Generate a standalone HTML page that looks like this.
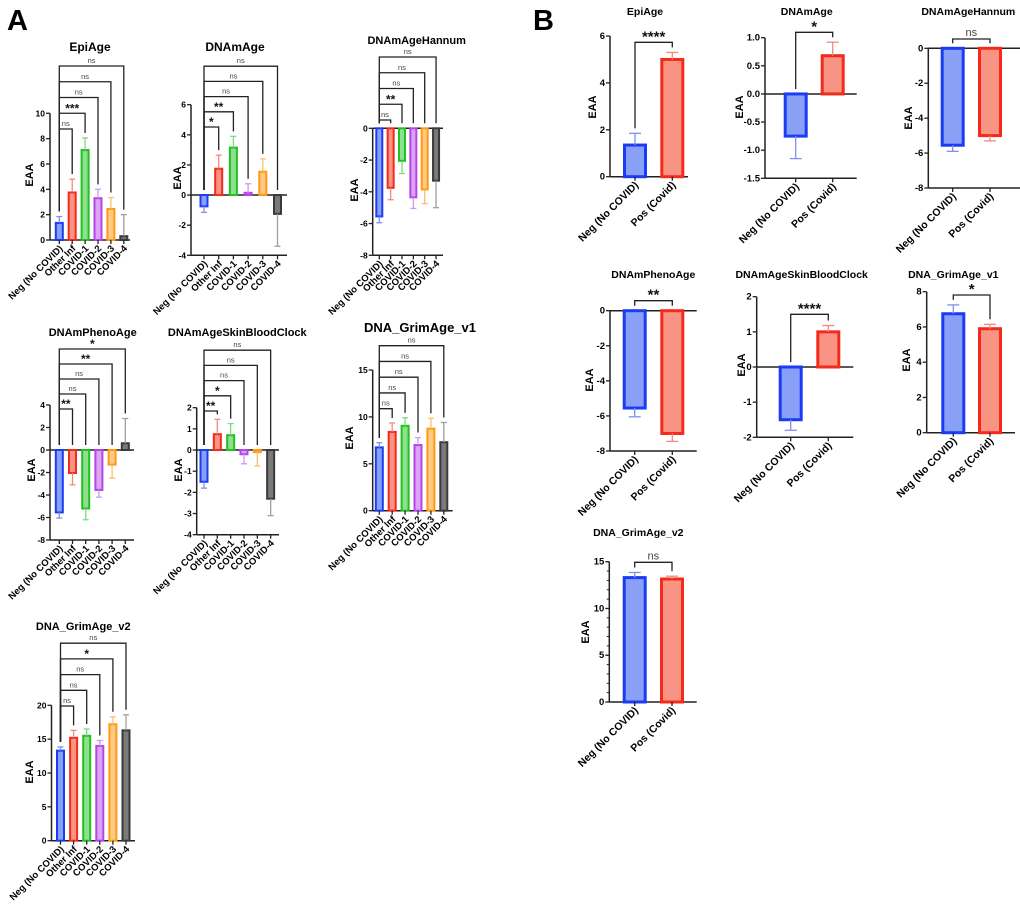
<!DOCTYPE html>
<html><head><meta charset="utf-8">
<style>
html,body{margin:0;padding:0;background:#fff;}
svg{display:block;font-family:"Liberation Sans",Arial,sans-serif;}
</style></head>
<body>
<svg id="fig" width="1020" height="908" viewBox="0 0 1020 908" xmlns="http://www.w3.org/2000/svg">
<text x="7" y="30" font-size="29" font-weight="bold">A</text>
<text x="533" y="30" font-size="29" font-weight="bold">B</text>
</svg>
<script>
// ---- categories ----
const catsA = ['Neg (No COVID)','Other Inf','COVID-1','COVID-2','COVID-3','COVID-4'];
const catsB = ['Neg (No COVID)','Pos (Covid)'];
// ---- panel A data (means, SEM, significance) ----
const a1Means = [1.35, 3.75, 7.1, 3.3, 2.45, 0.3];
const a1Sem = [0.5, 1.05, 0.95, 0.7, 0.9, 1.7];
const a1Sig = ['ns','***','ns','ns','ns'];
const a2Means = [-0.75, 1.75, 3.15, 0.15, 1.55, -1.25];
const a2Sem = [0.4, 0.9, 0.75, 0.6, 0.85, 2.15];
const a2Sig = ['*','**','ns','ns','ns'];
const a3Means = [-5.55, -3.75, -2.05, -4.35, -3.85, -3.3];
const a3Sem = [0.4, 0.75, 0.8, 0.7, 0.9, 1.7];
const a3Sig = ['ns','**','ns','ns','ns'];
const a4Means = [-5.55, -2.05, -5.2, -3.55, -1.3, 0.6];
const a4Sem = [0.5, 1.05, 1.0, 0.65, 1.2, 2.2];
const a4Sig = ['**','ns','ns','**','*'];
const a5Means = [-1.5, 0.75, 0.7, -0.2, -0.1, -2.3];
const a5Sem = [0.3, 0.7, 0.55, 0.45, 0.65, 0.8];
const a5Sig = ['**','*','ns','ns','ns'];
const a6Means = [6.75, 8.4, 9.05, 7.0, 8.75, 7.3];
const a6Sem = [0.5, 0.95, 0.85, 0.8, 1.1, 2.1];
const a6Sig = ['ns','ns','ns','ns','ns'];
const a7Means = [13.3, 15.2, 15.5, 14.0, 17.2, 16.3];
const a7Sem = [0.55, 1.1, 1.0, 0.8, 1.1, 2.3];
const a7Sig = ['ns','ns','ns','*','ns'];
// ---- panel B data ----
const b1Means = [1.35, 5.0]; const b1Sem = [0.5, 0.3]; const b1Sig = ['****'];
const b2Means = [-0.75, 0.68]; const b2Sem = [0.4, 0.24]; const b2Sig = ['*'];
const b3Means = [-5.55, -5.0]; const b3Sem = [0.35, 0.3]; const b3Sig = ['ns'];
const b4Means = [-5.55, -7.0]; const b4Sem = [0.5, 0.45]; const b4Sig = ['**'];
const b5Means = [-1.5, 1.0]; const b5Sem = [0.3, 0.18]; const b5Sig = ['****'];
const b6Means = [6.75, 5.9]; const b6Sem = [0.5, 0.25]; const b6Sig = ['*'];
const b7Means = [13.3, 13.15]; const b7Sem = [0.55, 0.3]; const b7Sig = ['ns'];
// ---- tick labels ----
const ticksA1 = [0,2,4,6,8,10];
const ticksA2 = [-4,-2,0,2,4,6];
const ticksA3 = [-8,-6,-4,-2,0];
const ticksA4 = [-8,-6,-4,-2,0,2,4];
const ticksA5 = [-4,-3,-2,-1,0,1,2];
const ticksA6 = [0,5,10,15];
const ticksA7 = [0,5,10,15,20];
const ticksB1 = [0,2,4,6];
const ticksB2 = [-1.5,-1.0,-0.5,0.0,0.5,1.0];
const ticksB3 = [-8,-6,-4,-2,0];
const ticksB4 = [-8,-6,-4,-2,0];
const ticksB5 = [-2,-1,0,1,2];
const ticksB6 = [0,2,4,6,8];
const ticksB7 = [0,5,10,15];

const NS = 'http://www.w3.org/2000/svg';
const svg = document.getElementById('fig');
const strokeA = ['#1a3cf5','#f52a1a','#22c022','#b445e6','#ff9a12','#3a3a3a'];
const fillA = ['#8aa0f6','#f79484','#8ee08e','#dca4f2','#ffc986','#7a7a7a'];
const errA = ['#7f90f0','#f08a80','#80d880','#cc99ee','#f8c070','#a0a0a0'];

function mk(tag, attrs, parent){
  const el = document.createElementNS(NS, tag);
  for (const k in attrs) el.setAttribute(k, attrs[k]);
  (parent || svg).appendChild(el);
  return el;
}

function panel(c){
  const g = mk('g', {});
  
  
  const yLo = c.ticks[0], yHi = c.ticks[c.ticks.length-1];
  const y = v => c.pLo + (v - yLo) * (c.pHi - c.pLo) / (yHi - yLo);
  const n = c.means.length;
  const bx = i => c.x1 + i * c.dx;
  const t = mk('text', {x:c.tx, y:c.ty, 'text-anchor':'middle', 'font-size':c.tfs, 'font-weight':'bold'}, g);
  t.textContent = c.title;
  
  
  const ya = mk('text', {x:0, y:0, 'text-anchor':'middle', 'font-size':11, 'font-weight':'bold', transform:`translate(${c.ex+5},${c.ey}) rotate(-90)`}, g);
  ya.textContent = 'EAA';
  
  
  const yl = mk('line', {x1:c.ax, x2:c.ax, y1:y(yLo), y2:y(yHi), stroke:'#222', 'stroke-width':1.5}, g);
  
  
  if (c.minor){
    for (let v = yLo; v <= yHi; v += c.minor){
      const m = mk('line', {x1:c.ax-2.5, x2:c.ax, y1:y(v), y2:y(v), stroke:'#222', 'stroke-width':1}, g);
      
      
    }
  }
  c.ticks.forEach(v => {
    const tk = mk('line', {x1:c.ax-4, x2:c.ax, y1:y(v), y2:y(v), stroke:'#222', 'stroke-width':1.3}, g);
    
    
    const tl = mk('text', {x:c.ax-5, y:y(v)+3, 'text-anchor':'end', 'font-size':c.big?9.5:8.5, 'font-weight':'bold'}, g);
    tl.textContent = c.fmt ? v.toFixed(1) : String(v);
    
    
  });
  const xl = mk('line', {x1:c.ax, x2:c.xe, y1:y(yLo), y2:y(yLo), stroke:'#222', 'stroke-width':1.5}, g);
  
  
  if (yLo < 0){
    const zl = mk('line', {x1:c.ax, x2:c.xe, y1:y(0), y2:y(0), stroke:'#222', 'stroke-width':1.5}, g);
    
    
  }
  const sA = c.big ? [strokeA[0], strokeA[1]] : strokeA;
  const fA = c.big ? [fillA[0], fillA[1]] : fillA;
  const eA = c.big ? [errA[0], errA[1]] : errA;
  const sw = c.big ? 3 : 2;
  for (let i = 0; i < n; i++){
    const cx = bx(i), m = c.means[i], s = c.sems[i];
    const top = Math.min(y(m), y(0)), h = Math.abs(y(m) - y(0));
    const r = mk('rect', {x:cx - c.bw/2 + sw/2, y:top, width:c.bw - sw, height:Math.max(h, 0.5), fill:fA[i], stroke:sA[i], 'stroke-width':sw}, g);
    
    
    const e = m >= 0 ? m + s : m - s;
    const el = mk('line', {x1:cx, x2:cx, y1:y(m), y2:y(e), stroke:eA[i], 'stroke-width':1.3}, g);
    
    
    const cap = mk('line', {x1:cx - c.cap, x2:cx + c.cap, y1:y(e), y2:y(e), stroke:eA[i], 'stroke-width':1.3}, g);
    
    
    const tkx = mk('line', {x1:cx, x2:cx, y1:y(yLo), y2:y(yLo)+4, stroke:'#222', 'stroke-width':1.3}, g);
    
    
    const cl = mk('text', {x:0, y:0, 'text-anchor':'end', 'font-size':c.big?10.5:9.5, 'font-weight':'bold', transform:`translate(${cx+4},${y(yLo)+9}) rotate(-45)`}, g);
    cl.textContent = c.cats[i];
    
    
  }
  const topOf = i => { const m = c.means[i]; return m > 0 ? y(m + c.sems[i]) : y(0); };
  c.sig.forEach((lab, k) => {
    const j = k + 1;
    const by = c.by0 - k * c.bstep;
    const x0 = bx(0), x1 = bx(j);
    const l0 = Math.max(by + 3, topOf(0) - 5), l1 = Math.max(by + 3, topOf(j) - 5);
    const p = mk('path', {d:`M${x0},${l0} V${by} H${x1} V${l1}`, fill:'none', stroke:'#222', 'stroke-width':1.3}, g);
    
    
    const isNs = lab === 'ns';
    const st = mk('text', {x:(x0+x1)/2, y:isNs ? by-3 : by-1, 'text-anchor':'middle', 'font-size':isNs ? (c.big?11:7.5) : (c.big?15:12), 'font-weight':isNs?'normal':'bold', fill:isNs?'#444':'#111'}, g);
    st.textContent = lab;
    
    
  });
}

// ---- Panel A ----
panel({name:'a-epiage', title:'EpiAge', tx:90, ty:51, tfs:12, ex:28, ey:175, ax:50, xe:130, pLo:240, pHi:113.3, ticks:ticksA1, x1:59.3, dx:12.9, bw:9, cap:3, means:a1Means, sems:a1Sem, sig:a1Sig, cats:catsA, by0:129, bstep:15.75});
panel({name:'a-dnamage', title:'DNAmAge', tx:235, ty:51, tfs:12, ex:176, ey:178, ax:191, xe:287, pLo:255.3, pHi:104.7, ticks:ticksA2, x1:204, dx:14.7, bw:9, cap:3, means:a2Means, sems:a2Sem, sig:a2Sig, cats:catsA, by0:127, bstep:15.2});
panel({name:'a-dnamagehannum', title:'DNAmAgeHannum', tx:416.7, ty:44, tfs:11, ex:353, ey:190, ax:372.7, xe:443, pLo:255.3, pHi:128.3, ticks:ticksA3, x1:379.3, dx:11.35, bw:8, cap:3, means:a3Means, sems:a3Sem, sig:a3Sig, cats:catsA, by0:120, bstep:15.75});
panel({name:'a-dnamphenoage', title:'DNAmPhenoAge', tx:92.7, ty:336, tfs:11, ex:30, ey:470, ax:50, xe:134, pLo:540, pHi:405, ticks:ticksA4, x1:59.3, dx:13.2, bw:9, cap:3, means:a4Means, sems:a4Sem, sig:a4Sig, cats:catsA, by0:409, bstep:15});
panel({name:'a-dnamageskinbloodclock', title:'DNAmAgeSkinBloodClock', tx:237.3, ty:336, tfs:11, ex:177, ey:470, ax:196.7, xe:279, pLo:534.7, pHi:407.7, ticks:ticksA5, x1:204, dx:13.33, bw:9, cap:3, means:a5Means, sems:a5Sem, sig:a5Sig, cats:catsA, by0:411, bstep:15.2});
panel({name:'a-dna-grimage-v1', title:'DNA_GrimAge_v1', tx:420, ty:332, tfs:13, ex:348, ey:438, ax:372.7, xe:452.7, pLo:510.7, pHi:370, ticks:ticksA6, x1:379.3, dx:12.9, bw:9, cap:3, means:a6Means, sems:a6Sem, sig:a6Sig, cats:catsA, by0:408.7, bstep:15.75});
panel({name:'a-dna-grimage-v2', title:'DNA_GrimAge_v2', tx:83.3, ty:630, tfs:11, ex:28, ey:772, ax:51.5, xe:135, pLo:840.7, pHi:705.3, ticks:ticksA7, x1:60.5, dx:13.1, bw:9, cap:3, means:a7Means, sems:a7Sem, sig:a7Sig, cats:catsA, by0:706, bstep:15.7});
// ---- Panel B ----
panel({name:'b-epiage', title:'EpiAge', tx:645, ty:15, tfs:10.5, ex:591, ey:107, ax:610, xe:688, pLo:176.7, pHi:36, ticks:ticksB1, x1:635, dx:37.3, bw:24, cap:6, means:b1Means, sems:b1Sem, sig:b1Sig, cats:catsB, by0:42.3, bstep:0, big:true});
panel({name:'b-dnamage', title:'DNAmAge', tx:806.7, ty:15, tfs:10.5, ex:738, ey:107, ax:765, xe:856.7, pLo:178.3, pHi:37.7, ticks:ticksB2, fmt:true, x1:795.7, dx:37, bw:24, cap:6, means:b2Means, sems:b2Sem, sig:b2Sig, cats:catsB, by0:32.3, bstep:0, big:true});
panel({name:'b-dnamagehannum', title:'DNAmAgeHannum', tx:968.3, ty:15, tfs:10.5, ex:907, ey:118, ax:928.3, xe:1020, pLo:188, pHi:48.3, ticks:ticksB3, x1:952.7, dx:37.3, bw:24, cap:6, means:b3Means, sems:b3Sem, sig:b3Sig, cats:catsB, by0:39, bstep:0, big:true});
panel({name:'b-dnamphenoage', title:'DNAmPhenoAge', tx:653.3, ty:278, tfs:10.5, ex:588, ey:380, ax:610, xe:696.7, pLo:451, pHi:310.7, ticks:ticksB4, x1:634.7, dx:37.6, bw:24, cap:6, means:b4Means, sems:b4Sem, sig:b4Sig, cats:catsB, by0:300.7, bstep:0, big:true});
panel({name:'b-dnamageskinbloodclock', title:'DNAmAgeSkinBloodClock', tx:801.7, ty:278, tfs:10.5, ex:740, ey:365, ax:756.7, xe:853.3, pLo:437.3, pHi:296.7, ticks:ticksB5, x1:790.7, dx:37.6, bw:24, cap:6, means:b5Means, sems:b5Sem, sig:b5Sig, cats:catsB, by0:314.3, bstep:0, big:true});
panel({name:'b-dna-grimage-v1', title:'DNA_GrimAge_v1', tx:953.3, ty:278, tfs:10.5, ex:905, ey:360, ax:926.7, xe:1015, pLo:432.7, pHi:291.7, ticks:ticksB6, x1:953.3, dx:36.7, bw:24, cap:6, means:b6Means, sems:b6Sem, sig:b6Sig, cats:catsB, by0:295, bstep:0, big:true});
panel({name:'b-dna-grimage-v2', title:'DNA_GrimAge_v2', tx:638.3, ty:536, tfs:10.5, ex:584, ey:632, ax:609.3, xe:696.7, pLo:702, pHi:561.7, ticks:ticksB7, minor:1, x1:634.7, dx:37.3, bw:24, cap:6, means:b7Means, sems:b7Sem, sig:b7Sig, cats:catsB, by0:562.3, bstep:0, big:true});
</script>
</body></html>
